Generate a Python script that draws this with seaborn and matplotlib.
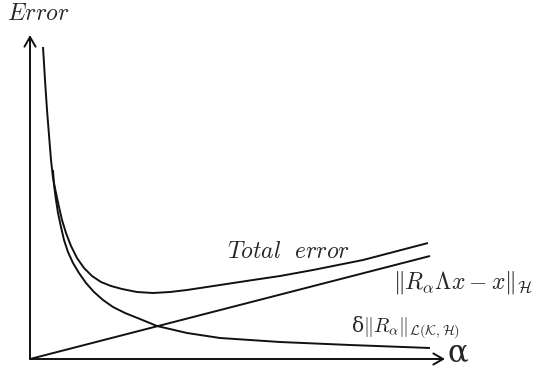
import matplotlib
matplotlib.use("Agg")
import matplotlib.pyplot as plt
import seaborn as sns
import pandas as pd

# Schematic values (arbitrary units)
noise_alpha = [0.23, 0.24, 0.26, 0.28, 0.31, 0.34, 0.38, 0.43, 0.49, 0.56, 0.64,
               0.73, 0.83, 0.95, 1.10, 1.27, 1.57, 1.90, 2.50, 3.20, 4.00]
noise_err = [1.89, 1.74, 1.59, 1.46, 1.32, 1.19, 1.07, 0.96, 0.86, 0.76, 0.67,
             0.59, 0.52, 0.46, 0.40, 0.33, 0.26, 0.21, 0.17, 0.14, 0.11]

total_alpha = [0.13, 0.15, 0.17, 0.19, 0.21, 0.23, 0.26, 0.29, 0.32, 0.36, 0.41,
               0.47, 0.54, 0.62, 0.71, 0.81, 0.92, 1.07, 1.23, 1.40, 1.57, 1.90,
               2.23, 2.50, 2.83, 3.33, 3.98]
total_err = [3.12, 2.79, 2.49, 2.24, 1.99, 1.81, 1.66, 1.52, 1.39, 1.26, 1.13,
             1.01, 0.91, 0.83, 0.77, 0.73, 0.70, 0.67, 0.66, 0.67, 0.69, 0.74,
             0.79, 0.83, 0.89, 0.99, 1.16]

bias_alpha = [0.0, 4.0]
bias_err = [0.0, 1.03]

df = pd.concat([
    pd.DataFrame({"alpha": noise_alpha, "err": noise_err, "curve": "noise"}),
    pd.DataFrame({"alpha": total_alpha, "err": total_err, "curve": "total"}),
    pd.DataFrame({"alpha": bias_alpha, "err": bias_err, "curve": "bias"}),
])

sns.set_style("white")
plt.rcParams["mathtext.fontset"] = "cm"
plt.rcParams["font.family"] = ["DejaVu Serif", "DejaVu Sans"]

fig = plt.figure(figsize=(5.36, 3.69), dpi=100)
ax = fig.add_axes([0, 0, 1, 1])
sns.lineplot(data=df, x="alpha", y="err", units="curve", estimator=None,
             sort=False, color="#111111", lw=1.4, ax=ax,
             solid_joinstyle="round", solid_capstyle="butt")
ax.set_xlim(-0.30, 5.06)
ax.set_ylim(-0.10, 3.59)
ax.axis("off")

# axes arrows
arrow = dict(arrowstyle="->,head_length=0.7,head_width=0.4", color="#111111", lw=1.4,
             shrinkA=0, shrinkB=0)
ax.annotate("", xy=(4.15, 0), xytext=(0, 0), arrowprops=arrow)
ax.annotate("", xy=(0, 3.24), xytext=(0, 0), arrowprops=arrow)

ax.text(0.08, 3.45, r"$Error$", fontsize=17, ha="center", va="center")
ax.text(2.59, 1.07, r"$Total\ \ error$", fontsize=17, ha="center", va="center")
ax.text(4.33, 0.76, r"$\Vert R_\alpha \Lambda x - x\Vert_{\mathcal{H}}$",
        fontsize=17, ha="center", va="center")
ax.text(3.76, 0.32, r"δ$\Vert R_\alpha\Vert_{\mathcal{L}(\mathcal{K},\mathcal{H})}$",
        fontsize=14.5, ha="center", va="center")
ax.text(4.28, 0.06, "α", fontsize=22, ha="center", va="center", family="DejaVu Serif")

fig.savefig("out.png", dpi=100)
